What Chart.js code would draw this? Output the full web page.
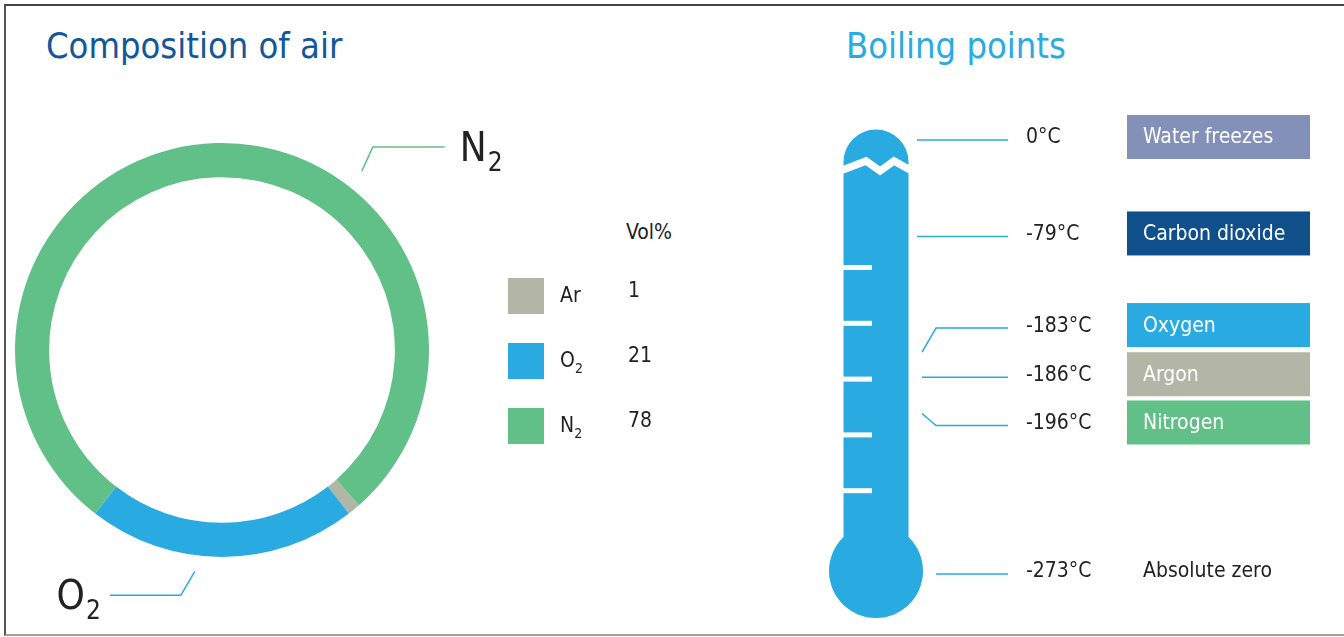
<!DOCTYPE html>
<html lang="en">
<head>
    <meta charset="UTF-8">
    <title>Composition of air / Boiling points</title>
    <style>
        body {
            margin: 0;
            width: 1344px;
            height: 637px;
            overflow: hidden;
            background: #fff;
            font-family: 'Liberation Sans Narrow', 'DejaVu Sans Condensed', 'Open Sans', sans-serif;
            position: relative;
        }

        .frame {
            position: absolute;
            left: 4px;
            top: 4px;
            width: 1350px;
            height: 628px;
            border-top: 2px solid #444;
            border-left: 2px solid #555;
            border-bottom: 2px solid #a0a0a0;
        }

        .title {
            position: absolute;
            top: 23px;
            font-size: 36px;
            line-height: 46px;
        }

        #airTitle { left: 46px; color: #12579a; }
        #boilTitle { left: 846px; color: #29abe2; }

        #airWrap { position: absolute; left: 0; top: 0; width: 560px; height: 637px; }
        #boilWrap { position: absolute; left: 800px; top: 100px; width: 544px; height: 537px; }

        .legend { position: absolute; left: 0; top: 0; font-size: 21px; color: #222; }
        .legend .row { position: absolute; height: 36px; }
        .legend .swatch { position: absolute; left: 508px; width: 36px; height: 36px; }
        .legend .name { position: absolute; left: 560px; top: 5px; white-space: nowrap; }
        .legend .val { position: absolute; left: 628px; top: 0px; }
        .legend sub { font-size: 14px; vertical-align: -6px; }
    </style>
</head>
<body>
    <div class="frame"></div>
    <div class="title" id="airTitle">Composition of air</div>
    <div class="title" id="boilTitle">Boiling points</div>
    <div id="airWrap"><canvas id="airChart"></canvas></div>
    <div id="boilWrap"><canvas id="boilChart"></canvas></div>
    <div class="legend" id="legend"></div>

    <script src="https://cdn.jsdelivr.net/npm/chart.js"></script>
    <script>
        // composition of air (vol%)
        const gases = ['Ar', 'O₂', 'N₂'];
        const gasNames = ['Ar', 'O<sub>2</sub>', 'N<sub>2</sub>'];
        const volPercent = [1, 21, 78];
        const gasColors = ['#b3b5a6', '#29abe2', '#61c087'];

        // boiling points
        const substances = ['Water freezes', 'Carbon dioxide', 'Oxygen', 'Argon', 'Nitrogen', 'Absolute zero'];
        const boilingPoints = [0, -79, -183, -186, -196, -273];
        const boxColors = ['#8391b8', '#0f4f8a', '#29abe2', '#b3b5a6', '#61c087', null];

        const FONT = "'Liberation Sans Narrow', 'DejaVu Sans Condensed', 'Open Sans', sans-serif";

        // legend table
        const legend = document.getElementById('legend');
        legend.innerHTML = '<div class="row" style="top:220px;left:626px">Vol%</div>';
        gases.forEach((g, i) => {
            const top = 278 + i * 65;
            legend.innerHTML +=
                '<div class="row" style="top:' + top + 'px">' +
                '<div class="swatch" style="background:' + gasColors[i] + '"></div>' +
                '<div class="name">' + gasNames[i] + '</div>' +
                '<div class="val" style="top:0px">' + volPercent[i] + '</div></div>';
        });

        // leader lines + big labels on the ring
        const ringLabels = {
            id: 'ringLabels',
            afterDraw(chart) {
                const ctx = chart.ctx;
                const arc = chart.getDatasetMeta(0).data[0];
                const cx = arc.x, cy = arc.y, R = arc.outerRadius;
                const callouts = [
                    { idx: 2, angle: -52, gap: 20, dx: 11, dy: -24, len: 72 },
                    { idx: 1, angle: 97, gap: 16, dx: -14, dy: 24, len: -71 }
                ];
                callouts.forEach(c => {
                    const a = c.angle * Math.PI / 180;
                    const sx = cx + Math.cos(a) * (R + c.gap);
                    const sy = cy + Math.sin(a) * (R + c.gap);
                    const bx = sx + c.dx, by = sy + c.dy;
                    const ex = bx + c.len;
                    ctx.save();
                    ctx.strokeStyle = gasColors[c.idx];
                    ctx.lineWidth = 1.5;
                    ctx.beginPath();
                    ctx.moveTo(sx, sy);
                    ctx.lineTo(bx, by);
                    ctx.lineTo(ex, by);
                    ctx.stroke();

                    const letter = gases[c.idx].charAt(0);
                    ctx.fillStyle = '#222';
                    ctx.textBaseline = 'alphabetic';
                    ctx.font = '40px ' + FONT;
                    const lw = ctx.measureText(letter).width;
                    ctx.font = '26px ' + FONT;
                    const sw = ctx.measureText('2').width;
                    let tx = c.len > 0 ? ex + 15 : ex - 10 - lw - sw;
                    ctx.font = '40px ' + FONT;
                    ctx.fillText(letter, tx, by + 14);
                    ctx.font = '26px ' + FONT;
                    ctx.fillText('2', tx + lw + 1, by + 24);
                    ctx.restore();
                });
            }
        };

        new Chart(document.getElementById('airChart'), {
            type: 'doughnut',
            data: {
                labels: gases,
                datasets: [{
                    data: volPercent,
                    backgroundColor: gasColors,
                    borderWidth: 0
                }]
            },
            options: {
                responsive: true,
                maintainAspectRatio: false,
                animation: false,
                cutout: '83.5%',
                rotation: 138.6,
                layout: { padding: { left: 15, top: 143, right: 131, bottom: 80 } },
                plugins: { legend: { display: false }, tooltip: { enabled: false } }
            },
            plugins: [ringLabels]
        });

        // vertical row slot of each boiling point (layout only)
        const rowSlot = [0, 2, 3.9, 4.92, 5.92, 9];
        const leaderStart = [117, 117, 122, 122, 122, 136];
        const leaderBend = [0, 0, 24, 0, -12, 0];

        const thermometer = {
            id: 'thermometer',
            beforeDatasetsDraw(chart) {
                const ctx = chart.ctx;
                const y = chart.scales.y;
                const top = y.getPixelForValue(0);
                const bottom = y.getPixelForValue(9);
                const blue = '#29abe2';
                const cx = 76;
                ctx.save();
                ctx.fillStyle = blue;
                // dome
                ctx.beginPath();
                ctx.arc(cx, top + 25, 32.5, Math.PI, 0);
                ctx.fill();
                // tube
                ctx.fillRect(cx - 32.5, top + 25, 65, bottom - top - 20);
                // bulb
                ctx.beginPath();
                ctx.arc(cx, bottom, 47, 0, Math.PI * 2);
                ctx.fill();
                // break in the tube
                ctx.strokeStyle = '#fff';
                ctx.lineWidth = 7.5;
                ctx.lineJoin = 'miter';
                ctx.beginPath();
                ctx.moveTo(cx - 36, top + 34);
                ctx.lineTo(cx - 10, top + 24);
                ctx.lineTo(cx + 4, top + 34);
                ctx.lineTo(cx + 18, top + 24);
                ctx.lineTo(cx + 36, top + 34);
                ctx.stroke();
                // scale marks
                ctx.fillStyle = '#fff';
                for (let k = 0; k < 5; k++) {
                    ctx.fillRect(cx - 33, top + 128 + k * 55.8, 29, 5);
                }
                ctx.restore();
            },
            afterDraw(chart) {
                const ctx = chart.ctx;
                const y = chart.scales.y;
                ctx.save();
                boilingPoints.forEach((t, i) => {
                    const py = y.getPixelForValue(rowSlot[i]);
                    // leader line
                    ctx.strokeStyle = '#29abe2';
                    ctx.lineWidth = 1.5;
                    ctx.beginPath();
                    if (leaderBend[i] !== 0) {
                        ctx.moveTo(leaderStart[i], py + 3 + leaderBend[i]);
                        ctx.lineTo(136, py + 3);
                    } else {
                        ctx.moveTo(leaderStart[i], py + 3);
                    }
                    ctx.lineTo(208, py + 3);
                    ctx.stroke();

                    // temperature
                    ctx.fillStyle = '#222';
                    ctx.font = '21px ' + FONT;
                    ctx.textBaseline = 'middle';
                    ctx.fillText(t + '°C', 226, py + 1);

                    // label box
                    const boxH = 44;
                    if (boxColors[i]) {
                        ctx.fillStyle = boxColors[i];
                        ctx.fillRect(327, py - boxH / 2, 183, boxH);
                        ctx.fillStyle = '#fff';
                    } else {
                        ctx.fillStyle = '#222';
                    }
                    ctx.fillText(substances[i], 343, py + 1);
                });
                ctx.restore();
            }
        };

        new Chart(document.getElementById('boilChart'), {
            type: 'scatter',
            data: {
                datasets: [{
                    label: 'Boiling point',
                    data: boilingPoints.map((t, i) => ({ x: t, y: rowSlot[i] })),
                    pointRadius: 0,
                    showLine: false
                }]
            },
            options: {
                responsive: true,
                maintainAspectRatio: false,
                animation: false,
                layout: { padding: { left: 0, top: 37, right: 0, bottom: 66 } },
                scales: {
                    x: { display: false, min: -300, max: 20 },
                    y: { display: false, min: 0, max: 9, reverse: true }
                },
                plugins: { legend: { display: false }, tooltip: { enabled: false } }
            },
            plugins: [thermometer]
        });
    </script>
</body>
</html>
